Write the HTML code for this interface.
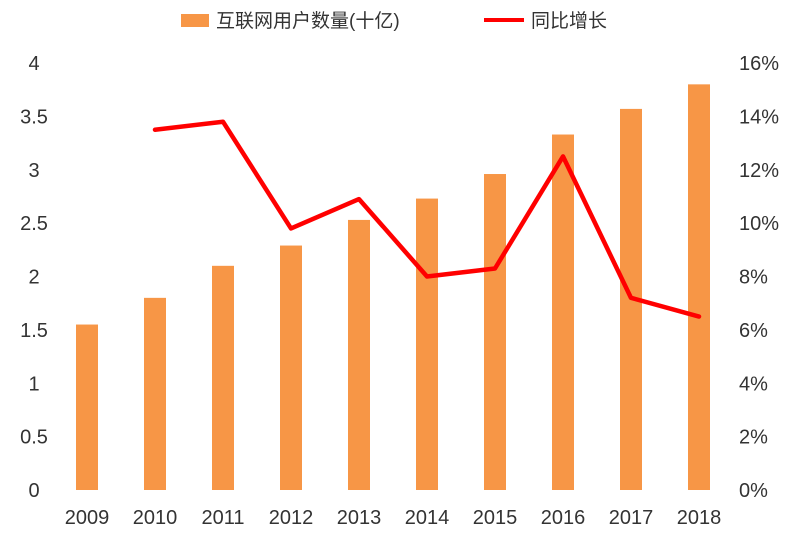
<!DOCTYPE html>
<html><head><meta charset="utf-8">
<style>
html,body{margin:0;padding:0;background:#fff;}
svg{display:block;font-family:"Liberation Sans","Noto Sans CJK SC",sans-serif;}
</style></head>
<body>
<svg id="chart" width="800" height="533" viewBox="0 0 800 533" xmlns="http://www.w3.org/2000/svg">
  <g>
    <rect x="181" y="14" width="28" height="13" fill="#F79646"/>
    <text x="216" y="27" font-size="19" fill="#333">互联网用户数量(十亿)</text>
    <line x1="484" y1="20" x2="524" y2="20" stroke="#FF0000" stroke-width="4"/>
    <text x="531" y="27" font-size="19" fill="#333">同比增长</text>
  </g>
  <g id="yLeft"></g>
  <g id="yRight"></g>
  <g id="xAxis"></g>
  <g id="bars"></g>
  <g id="lineG"></g>
</svg>
<script>
const categories = ["2009","2010","2011","2012","2013","2014","2015","2016","2017","2018"];
const users = [1.55,1.80,2.10,2.29,2.53,2.73,2.96,3.33,3.57,3.80];
const growth = [null,13.5,13.8,9.8,10.9,8.0,8.3,12.5,7.2,6.5];
const leftTicks = [0,0.5,1,1.5,2,2.5,3,3.5,4];
const rightTicks = [0,2,4,6,8,10,12,14,16];

const NS = "http://www.w3.org/2000/svg";
const plotL = 53, plotR = 733, y0 = 490, yTop = 63;
const step = (plotR - plotL) / categories.length;
function xC(i){ return plotL + step * (i + 0.5); }
function yL(v){ return y0 - (v / 4) * (y0 - yTop); }
function yR(v){ return y0 - (v / 16) * (y0 - yTop); }
function mk(tag, attrs, parent){ const e = document.createElementNS(NS, tag); for (const k in attrs) e.setAttribute(k, attrs[k]); parent.appendChild(e); return e; }

const gl = document.getElementById('yLeft');
leftTicks.forEach(v => {
  const t = mk('text', {x: 34, y: yL(v) + 7, 'font-size': 20, fill: '#333', 'text-anchor': 'middle'}, gl);
  
  
  t.textContent = String(v);
});
const gr = document.getElementById('yRight');
rightTicks.forEach(v => {
  const t = mk('text', {x: 739, y: yR(v) + 7, 'font-size': 20, fill: '#333'}, gr);
  
  
  t.textContent = v + '%';
});
const gx = document.getElementById('xAxis');
categories.forEach((c, i) => {
  const t = mk('text', {x: xC(i), y: 524, 'font-size': 20, fill: '#333', 'text-anchor': 'middle'}, gx);
  
  
  t.textContent = c;
});
const gb = document.getElementById('bars');
users.forEach((v, i) => {
  const r = mk('rect', {x: xC(i) - 11, y: yL(v), width: 22, height: y0 - yL(v), fill: '#F79646'}, gb);
  
  
});
const gline = document.getElementById('lineG');
const pts = [];
growth.forEach((v, i) => { if (v !== null) pts.push(xC(i) + ',' + yR(v)); });
const pl = mk('polyline', {points: pts.join(' '), fill: 'none', stroke: '#FF0000', 'stroke-width': 4.5, 'stroke-linejoin': 'round', 'stroke-linecap': 'round'}, gline);


</script>
</body></html>
